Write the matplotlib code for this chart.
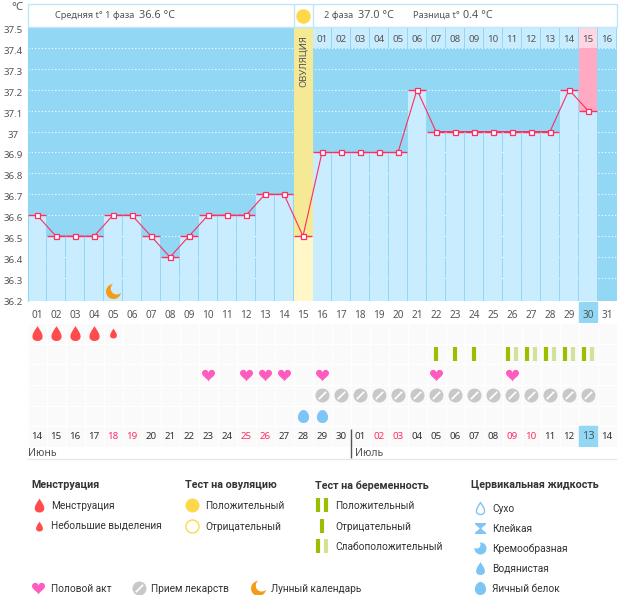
import numpy as np
import matplotlib
matplotlib.use('Agg')
import matplotlib.pyplot as plt
from matplotlib.patches import Rectangle
from matplotlib.path import Path
from matplotlib.transforms import ScaledTranslation

plt.rcParams['font.family'] = ['Noto Sans', 'DejaVu Sans']
LEGEND_FONT = ['Roboto', 'DejaVu Sans']

# ---- data ----
days = list(range(1, 32))
temps = [36.6, 36.5, 36.5, 36.5, 36.6, 36.6, 36.5, 36.4, 36.5, 36.6, 36.6, 36.6, 36.7, 36.7, 36.5,
         36.9, 36.9, 36.9, 36.9, 36.9, 37.2, 37.0, 37.0, 37.0, 37.0, 37.0, 37.0, 37.0, 37.2, 37.1]
y_ticks = [37.5, 37.4, 37.3, 37.2, 37.1, 37, 36.9, 36.8, 36.7, 36.6, 36.5, 36.4, 36.3, 36.2]
y_labels = ['37.5', '37.4', '37.3', '37.2', '37.1', '37', '36.9', '36.8', '36.7', '36.6', '36.5', '36.4', '36.3', '36.2']
ovulation_day = 15
pink_day = 30
today = 30
moon_day = 5
phase2_days = list(range(16, 32))
phase2_labels = ['%02d' % i for i in range(1, 17)]

dates = [14, 15, 16, 17, 18, 19, 20, 21, 22, 23, 24, 25, 26, 27, 28, 29, 30,
         1, 2, 3, 4, 5, 6, 7, 8, 9, 10, 11, 12, 13, 14]
weekend_days = [5, 6, 12, 13, 19, 20, 26, 27]

mens_big = [1, 2, 3, 4]
mens_small = [5]
test_single = [22, 23, 24]
test_pair = [26, 27, 28, 29, 30]
sex_days = [10, 12, 13, 14, 16, 22, 26]
pill_days = list(range(16, 31))
eggwhite_days = [15, 16]

# ---- colours ----
SKY = '#92d8f5'
BAR = '#c9ecfe'
RED = '#ff2d62'
GREY = '#555555'
DARK = '#333333'
DROP = '#ff4b4b'
FLUID = '#7cc5f5'
HEART = '#ff5cc0'
PILL = '#c8c8c8'
ORANGE = '#f39c18'
SUN = '#ffd84a'
T_DARK = '#9abf00'
T_LIGHT = '#d3e29a'


# ---- marker shapes ----
def closed(xs, ys):
    pts = np.column_stack([xs, ys])
    pts = pts / np.abs(pts).max()
    return Path(np.vstack([pts, pts[0]]), closed=True)


def crescent(cx, cy, r):
    d = np.hypot(cx, cy)
    phi = np.arctan2(cy, cx)
    a = np.arccos((1 + d * d - r * r) / (2 * d))
    t1 = np.linspace(phi + a, phi - a + 2 * np.pi, 50)
    p1 = np.array([np.cos(phi + a), np.sin(phi + a)])
    p2 = np.array([np.cos(phi - a), np.sin(phi - a)])
    b1 = np.arctan2(p1[1] - cy, p1[0] - cx)
    b2 = np.arctan2(p2[1] - cy, p2[0] - cx)
    b2 = b2 + 2 * np.pi * np.ceil((b1 - b2) / (2 * np.pi))
    t2 = np.linspace(b2, b1, 30)
    return closed(np.r_[np.cos(t1), cx + r * np.cos(t2)], np.r_[np.sin(t1), cy + r * np.sin(t2)])


t = np.linspace(0, 2 * np.pi, 80)
m_drop = closed(0.95 * np.sin(t) * np.abs(np.sin(t / 2)) ** 1.4, np.cos(t))
m_heart = closed(16 * np.sin(t) ** 3, 13 * np.cos(t) - 5 * np.cos(2 * t) - 2 * np.cos(3 * t) - np.cos(4 * t) + 2)
m_egg = closed(0.85 * np.sin(t) * (1 - 0.12 * np.cos(t)), np.cos(t))
m_moon = crescent(0.42, 0.38, 0.78)
m_cream = crescent(-0.62, 0.62, 0.62)
m_glue = closed([-1, 1, 1, 0.2, 0.2, 1, 1, -1, -1, -0.2, -0.2, -1], [1, 1, 0.75, 0.1, -0.1, -0.75, -1, -1, -0.75, -0.1, 0.1, 0.75])
m_slash = closed([-1, -0.72, 1, 0.72], [-0.72, -1, 0.72, 1])


def mark(ax, x, y, path, px, color, **kw):
    ax.plot(x, y, ls='none', marker=path, ms=px * 0.72, mfc=color, mec=kw.pop('mec', 'none'), mew=kw.pop('mew', 0), zorder=kw.pop('zorder', 5))


def pill(ax, x, y, px):
    mark(ax, x, y, 'o', px, PILL)
    mark(ax, x, y, m_slash, px * 0.62, 'white', zorder=6)


W, H = 626, 595
fig = plt.figure(figsize=(W / 100, H / 100), dpi=100, facecolor='white')

# ---- temperature chart ----
Y0 = 36.19
ax = fig.add_axes([27.5 / W, 1 - 301 / H, 589 / W, 274 / H], facecolor=SKY)
ax.set_xlim(0.5, 31.5)
ax.set_ylim(Y0, 37.5)
for s in ax.spines.values():
    s.set_visible(False)
ax.spines['left'].set_visible(True)
ax.spines['left'].set_color(SKY)

ax.hlines([v / 10 for v in range(363, 375)], 0.5, 31.5, color='white', lw=0.8, ls=(0, (1, 2)), zorder=1)

bar_days = days[:len(temps)]
ax.bar(bar_days, np.array(temps) - Y0, bottom=Y0, width=18 / 19, color=BAR, zorder=2)
ov_i = bar_days.index(ovulation_day)
ax.bar(ovulation_day, 37.5 - temps[ov_i], bottom=temps[ov_i], width=1, color='#f5e995', zorder=2)
ax.bar(ovulation_day, temps[ov_i] - Y0, bottom=Y0, width=1, color='#fff7c8', zorder=2)
pk_i = bar_days.index(pink_day)
ax.bar(pink_day, 37.4 - temps[pk_i], bottom=temps[pk_i], width=18 / 19, color='#ffa9c2', zorder=2)

# strip with phase 2 day numbers
strip_colors = ['#ffd6e2' if d == pink_day else BAR for d in phase2_days]
ax.bar(phase2_days, 0.1, bottom=37.4, width=18 / 19, color=strip_colors, zorder=2)
for d, lab in zip(phase2_days, phase2_labels):
    ax.text(d, 37.44, lab, ha='center', va='center', fontsize=7.0, color=GREY, zorder=4)
ax.text(ovulation_day, 37.338, 'ОВУЛЯЦИЯ', rotation=90, ha='center', va='center', fontsize=6.8, color=GREY, zorder=4)

ax.hlines(temps, np.array(bar_days) - 0.5, np.array(bar_days) + 0.45, color=RED, lw=1, zorder=4)
ax.plot(bar_days, temps, color=RED, lw=0.8, zorder=4)
ax.plot(bar_days, temps, ls='none', marker='s', ms=3.6, mfc='white', mec=RED, mew=0.9, zorder=5)
mark(ax, moon_day, 36.238, m_moon, 15, ORANGE)

ax.set_xticks(days, ['%02d' % d for d in days])
ax.set_yticks(y_ticks, y_labels)
ax.tick_params(axis='both', length=0, labelcolor=GREY)
ax.tick_params(axis='x', pad=6.2, labelsize=7.2)
ax.tick_params(axis='y', pad=10.5, labelsize=7.0)
shift = ScaledTranslation(0, -2.5 / 100, fig.dpi_scale_trans)
for lab in ax.get_yticklabels():
    lab.set_ha('center')
    lab.set_transform(lab.get_transform() + shift)

# current day box under the axis
ax.add_patch(Rectangle((today - 0.47, -21 / 274), 0.94, 20.5 / 274, transform=ax.get_xaxis_transform(),
                       color=SKY, clip_on=False, zorder=1))

# ---- symbol rows ----
rows = fig.add_axes([27.5 / W, 1 - 447 / H, 589 / W, 124 / H], facecolor='#fafafa')
rows.set_xlim(0.5, 31.5)
rows.set_ylim(5.5, -0.5)
for s in rows.spines.values():
    s.set_visible(False)
rows.set_xticks([])
rows.set_yticks([])
rows.vlines(np.arange(0.5, 32), -0.5, 5.5, color='white', lw=1, zorder=1)
rows.hlines(np.arange(-0.5, 6), 0.5, 31.5, color='white', lw=1, zorder=1)

mark(rows, mens_big, [0] * len(mens_big), m_drop, 15, DROP)
mark(rows, mens_small, [0] * len(mens_small), m_drop, 10, DROP)
rows.plot(test_single, [1] * len(test_single), ls='none', marker='|', ms=10, mew=3, mec=T_DARK)
rows.plot(np.array(test_pair) - 0.21, [1] * len(test_pair), ls='none', marker='|', ms=10, mew=3, mec=T_DARK)
rows.plot(np.array(test_pair) + 0.21, [1] * len(test_pair), ls='none', marker='|', ms=10, mew=3, mec=T_LIGHT)
mark(rows, sex_days, [2] * len(sex_days), m_heart, 13, HEART)
pill(rows, pill_days, [3] * len(pill_days), 14)
mark(rows, eggwhite_days, [4] * len(eggwhite_days), m_egg, 13, FLUID)

rows.add_patch(Rectangle((today - 0.47, 4.5), 0.94, 1, color=SKY, zorder=2))
for d, dt in zip(days, dates):
    c = RED if d in weekend_days else (GREY if d == today else DARK)
    rows.text(d, 5, '%02d' % dt, ha='center', va='center', fontsize=8.0 if d == today else 7.0, color=c, zorder=4)

# ---- everything laid out in pixels ----
ov = fig.add_axes([0, 0, 1, 1], facecolor='none')
ov.set_xlim(0, W)
ov.set_ylim(H, 0)
ov.axis('off')

ov.add_patch(Rectangle((27.5, 3.5), 589, 23.5, fc='white', ec='#bfe6f8', lw=1))
ov.vlines([293.5, 312.5], 3.5, 27, color='#bfe6f8', lw=1)
mark(ov, 303, 15.5, 'o', 14.5, SUN)
ov.text(17, 7, '°C', ha='center', va='center', fontsize=8.2, color=GREY)

for x, s, fs in [(55, 'Средняя t° 1 фаза', 6.6), (139, '36.6 °C', 7.8), (324, '2 фаза', 6.6), (358, '37.0 °C', 7.8),
                 (413, 'Разница t°', 6.6), (463, '0.4 °C', 7.8)]:
    ov.text(x, 15.5, s, ha='left', va='center', fontsize=fs, color=GREY)

ov.text(28, 453, 'Июнь', ha='left', va='center', fontsize=7.6, color=GREY)
ov.text(355, 453, 'Июль', ha='left', va='center', fontsize=7.6, color=GREY)
ov.vlines(350.5, 429, 458, color=GREY, lw=1)
ov.hlines(458.5, 27, 617, color='#e8e8e8', lw=1)

for x, s in [(31, 'Менструация'), (185, 'Тест на овуляцию'), (315, 'Тест на беременность'), (471, 'Цервикальная жидкость')]:
    ov.text(x, 485.5, s, ha='left', va='center', fontsize=7.75, fontweight='bold', color=DARK, family=LEGEND_FONT)

items = [(51, 505.5, 'Менструация'), (51, 526, 'Небольшие выделения'), (205, 505.5, 'Положительный'), (205, 526, 'Отрицательный'),
         (335, 505.5, 'Положительный'), (335, 526, 'Отрицательный'), (335, 546, 'Слабоположительный'),
         (492, 508, 'Сухо'), (492, 528, 'Клейкая'), (492, 548, 'Кремообразная'), (492, 568, 'Водянистая'), (492, 588, 'Яичный белок'),
         (51, 588, 'Половой акт'), (151, 588, 'Прием лекарств'), (271, 588, 'Лунный календарь')]
for x, y, s in items:
    ov.text(x, y + 0.5, s, ha='left', va='center', fontsize=7.3, color=DARK, family=LEGEND_FONT)

mark(ov, 38.5, 505, m_drop, 14, DROP)
mark(ov, 38.5, 526, m_drop, 10, DROP)
mark(ov, 192, 505, 'o', 14, SUN)
mark(ov, 192, 526, 'o', 13, 'white', mec=SUN, mew=1)
ov.plot([318, 326], [505, 505], ls='none', marker='|', ms=10, mew=3, mec=T_DARK)
ov.plot([322], [526], ls='none', marker='|', ms=10, mew=3, mec=T_DARK)
ov.plot([318], [546], ls='none', marker='|', ms=10, mew=3, mec=T_DARK)
ov.plot([326], [546], ls='none', marker='|', ms=10, mew=3, mec=T_LIGHT)
mark(ov, 479.5, 508, m_drop, 12, 'white', mec=FLUID, mew=1)
mark(ov, 479.5, 528, m_glue, 11, FLUID)
mark(ov, 479.5, 548, m_cream, 12, FLUID)
mark(ov, 479.5, 568, m_drop, 13, FLUID)
mark(ov, 479.5, 588, m_egg, 13, FLUID)
mark(ov, 38, 588, m_heart, 13, HEART)
pill(ov, 139, 588, 14)
mark(ov, 258, 588, m_moon, 15, ORANGE)

fig.savefig('out.png', dpi=100)
